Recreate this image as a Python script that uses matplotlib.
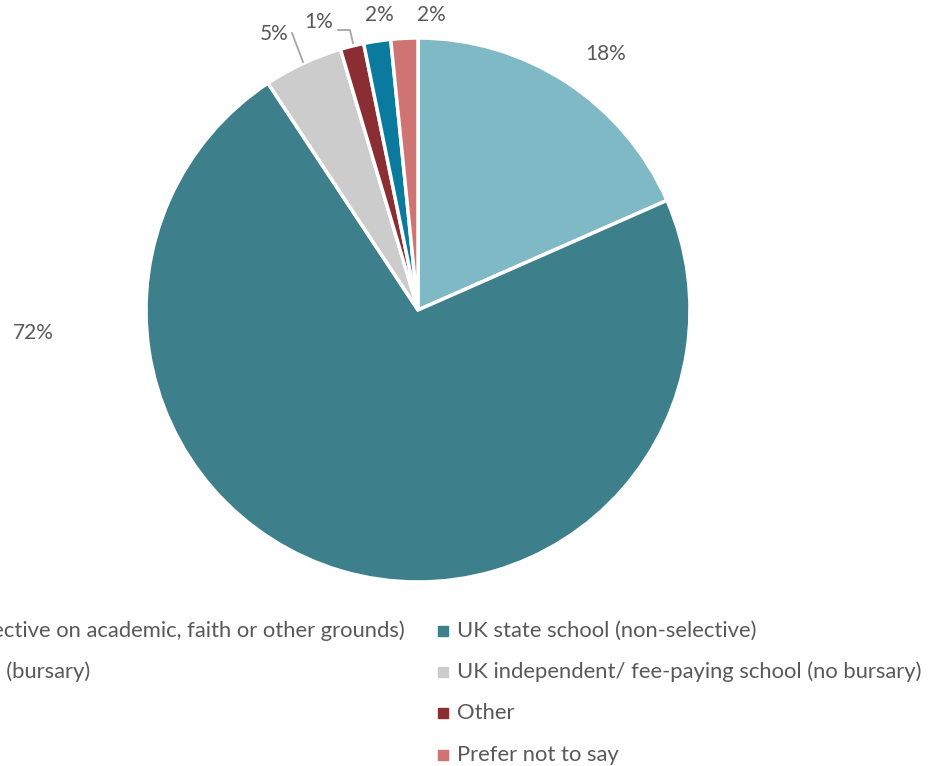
import matplotlib
matplotlib.use("Agg")
import matplotlib.pyplot as plt
import numpy as np

categories = [
    "UK state school (selective on academic, faith or other grounds)",
    "UK state school (non-selective)",
    "UK independent/ fee-paying school (no bursary)",
    "Other",
    "UK independent/ fee-paying school (bursary)",
    "Prefer not to say",
]
values = [18.4, 72.3, 4.7, 1.4, 1.6, 1.6]
colors = ["#7FB9C6", "#3D7F8A", "#CCCCCC", "#8B2E33", "#0A7A9E", "#D07373"]

# label layout (data units, radius = 1)
label_pos = [(0.69, 0.94), (-1.415, -0.085), (-0.528, 1.015), (-0.364, 1.058), (-0.143, 1.085), (0.051, 1.085)]

W, H = 929, 766
fig = plt.figure(figsize=(W / 100, H / 100), dpi=100)
cx, cy, R = 418, 310, 272
ax = fig.add_axes([(cx - R) / W, (H - cy - R) / H, 2 * R / W, 2 * R / H])
plt.rcParams['font.family'] = ['Lato', 'DejaVu Sans']
txtc = "#595959"

wedges, _ = ax.pie(values, colors=colors, startangle=90, counterclock=False, radius=1,
                   wedgeprops=dict(edgecolor="white", linewidth=2.5))
ax.set_xlim(-1, 1)
ax.set_ylim(-1, 1)
ax.set_aspect("equal")
ax.axis("off")

total = sum(values)
for v, (lx, ly) in zip(values, label_pos):
    ax.text(lx, ly, f"{round(v / total * 100):d}%", ha="center", va="center",
            fontsize=15, color=txtc, family=['Lato', 'DejaVu Sans'], clip_on=False)

# leader lines for small slices
def px(x, y):
    return ((x - cx) / R, (cy - y) / R)

for pts in [[(292, 33), (303, 62)], [(338, 30), (350, 30), (353, 43)]]:
    xs, ys = zip(*[px(*p) for p in pts])
    ax.plot(xs, ys, color="#A6A6A6", lw=1.3, clip_on=False)

# legend (2 columns, left column cut by figure edge)
legend_order = [0, 1, 4, 2, None, 3, None, 5]
rows_y = [631, 672, 713, 755]
right_x = 443
for i, idx in enumerate(legend_order):
    if idx is None:
        continue
    r, c = divmod(i, 2)
    y = 1 - rows_y[r] / H
    if c == 1:
        fig.patches.append(plt.Rectangle(((right_x - 5) / W, y - 5 / H), 10 / W, 10 / H,
                                         transform=fig.transFigure, color=colors[idx]))
        fig.text((right_x + 14) / W, y, categories[idx], ha="left", va="center",
                 fontsize=15.8, color=txtc)
    else:
        endx = 405 if r == 0 else 90
        fig.text(endx / W, y, categories[idx], ha="right", va="center",
                 fontsize=15.8, color=txtc)

fig.savefig("out.png", dpi=100)
